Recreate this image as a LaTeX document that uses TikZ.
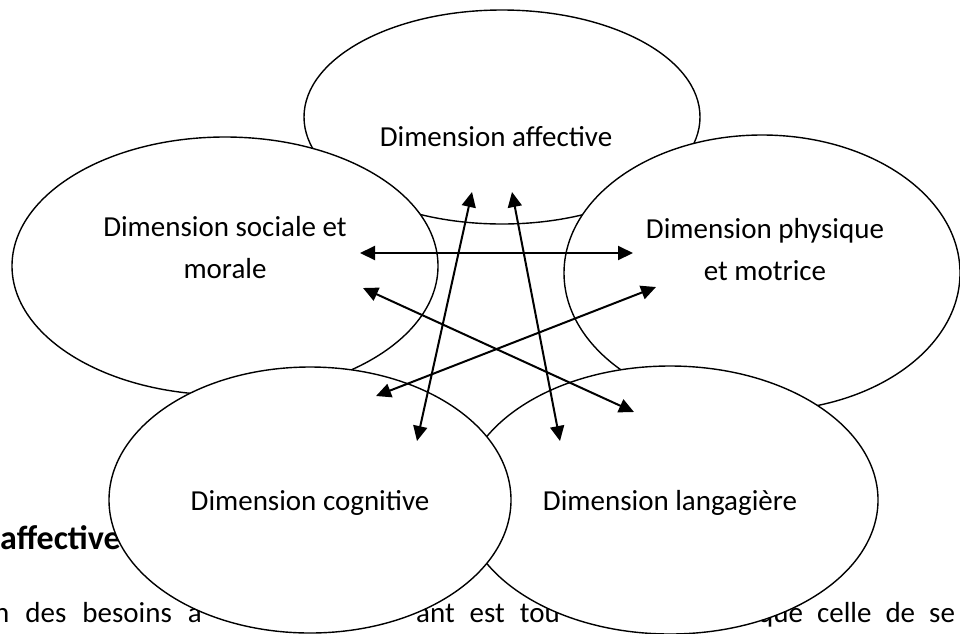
\documentclass[tikz,border=0pt]{standalone}
\usepackage{fontspec}
\setmainfont{Carlito}
\usetikzlibrary{shapes.geometric, arrows.meta, positioning}

\begin{document}
\begin{tikzpicture}[
			x=1pt, y=-1pt,
			bulle/.style={
				ellipse,
				draw,
				line width=1.4pt,
				fill=white,
				inner sep=0pt
			},
			etiquette/.style={
				font=\fontsize{29}{42}\selectfont,
				align=center,
				anchor=base,
				inner sep=0pt
			},
			fond/.style={
				font=\fontsize{29}{35}\selectfont,
				anchor=base west,
				inner sep=0pt
			},
			every edge/.style={
				draw,
				line width=2pt,
				arrows={Triangle[length=15pt,width=14pt]-Triangle[length=15pt,width=14pt]}
			}
			]
			\useasboundingbox (0,0) rectangle (960,633);
			
			% Text behind
			\node[fond, font=\fontsize{34}{40}\selectfont\bfseries] (titre) at (0,549) {affective};
			\node[fond] (ligne-g) at (-6,622) {\spaceskip=16pt n des besoins a};
			\node[fond] (ligne-m) at (416,622) {\spaceskip=15pt ant est tou};
			\node[fond] (ligne-d) at (758,622) {\spaceskip=14pt que celle de se};
			
			% Ellipses
			\node[bulle, minimum width=396pt, minimum height=214pt] (affective) at (502,117) {};
			\node[bulle, minimum width=426pt, minimum height=258pt] (sociale) at (225,266) {};
			\node[bulle, minimum width=396pt, minimum height=276pt] (physique) at (762,273) {};
			\node[bulle, minimum width=416pt, minimum height=268pt] (langagiere) at (670,500) {};
			\node[bulle, minimum width=402pt, minimum height=266pt] (cognitive) at (310,500) {};
			
			% Labels
			\node[etiquette] (affective-t) at (496,146) {Dimension affective};
			\node[etiquette] (sociale-t) at (225,278) {Dimension sociale et\\morale};
			\node[etiquette] (physique-t) at (765,280) {Dimension physique\\et motrice};
			\node[etiquette] (cognitive-t) at (310,510) {Dimension cognitive};
			\node[etiquette] (langagiere-t) at (670,510) {Dimension langagière};
			
			% Arrow ends
			\coordinate (sociale-h) at (360,253);
			\coordinate (physique-h) at (633,253);
			\coordinate (sociale-b) at (363,288);
			\coordinate (langagiere-d) at (634,412);
			\coordinate (physique-b) at (656,287);
			\coordinate (cognitive-d) at (376,396);
			\coordinate (affective-g) at (472,192);
			\coordinate (cognitive-h) at (417,441);
			\coordinate (affective-d) at (512,192);
			\coordinate (langagiere-h) at (560,441);
			
			% Arrows
			\path
			(sociale-h) edge (physique-h)
			(sociale-b) edge (langagiere-d)
			(physique-b) edge (cognitive-d)
			(affective-g) edge (cognitive-h)
			(affective-d) edge (langagiere-h);
		\end{tikzpicture}
\end{document}
